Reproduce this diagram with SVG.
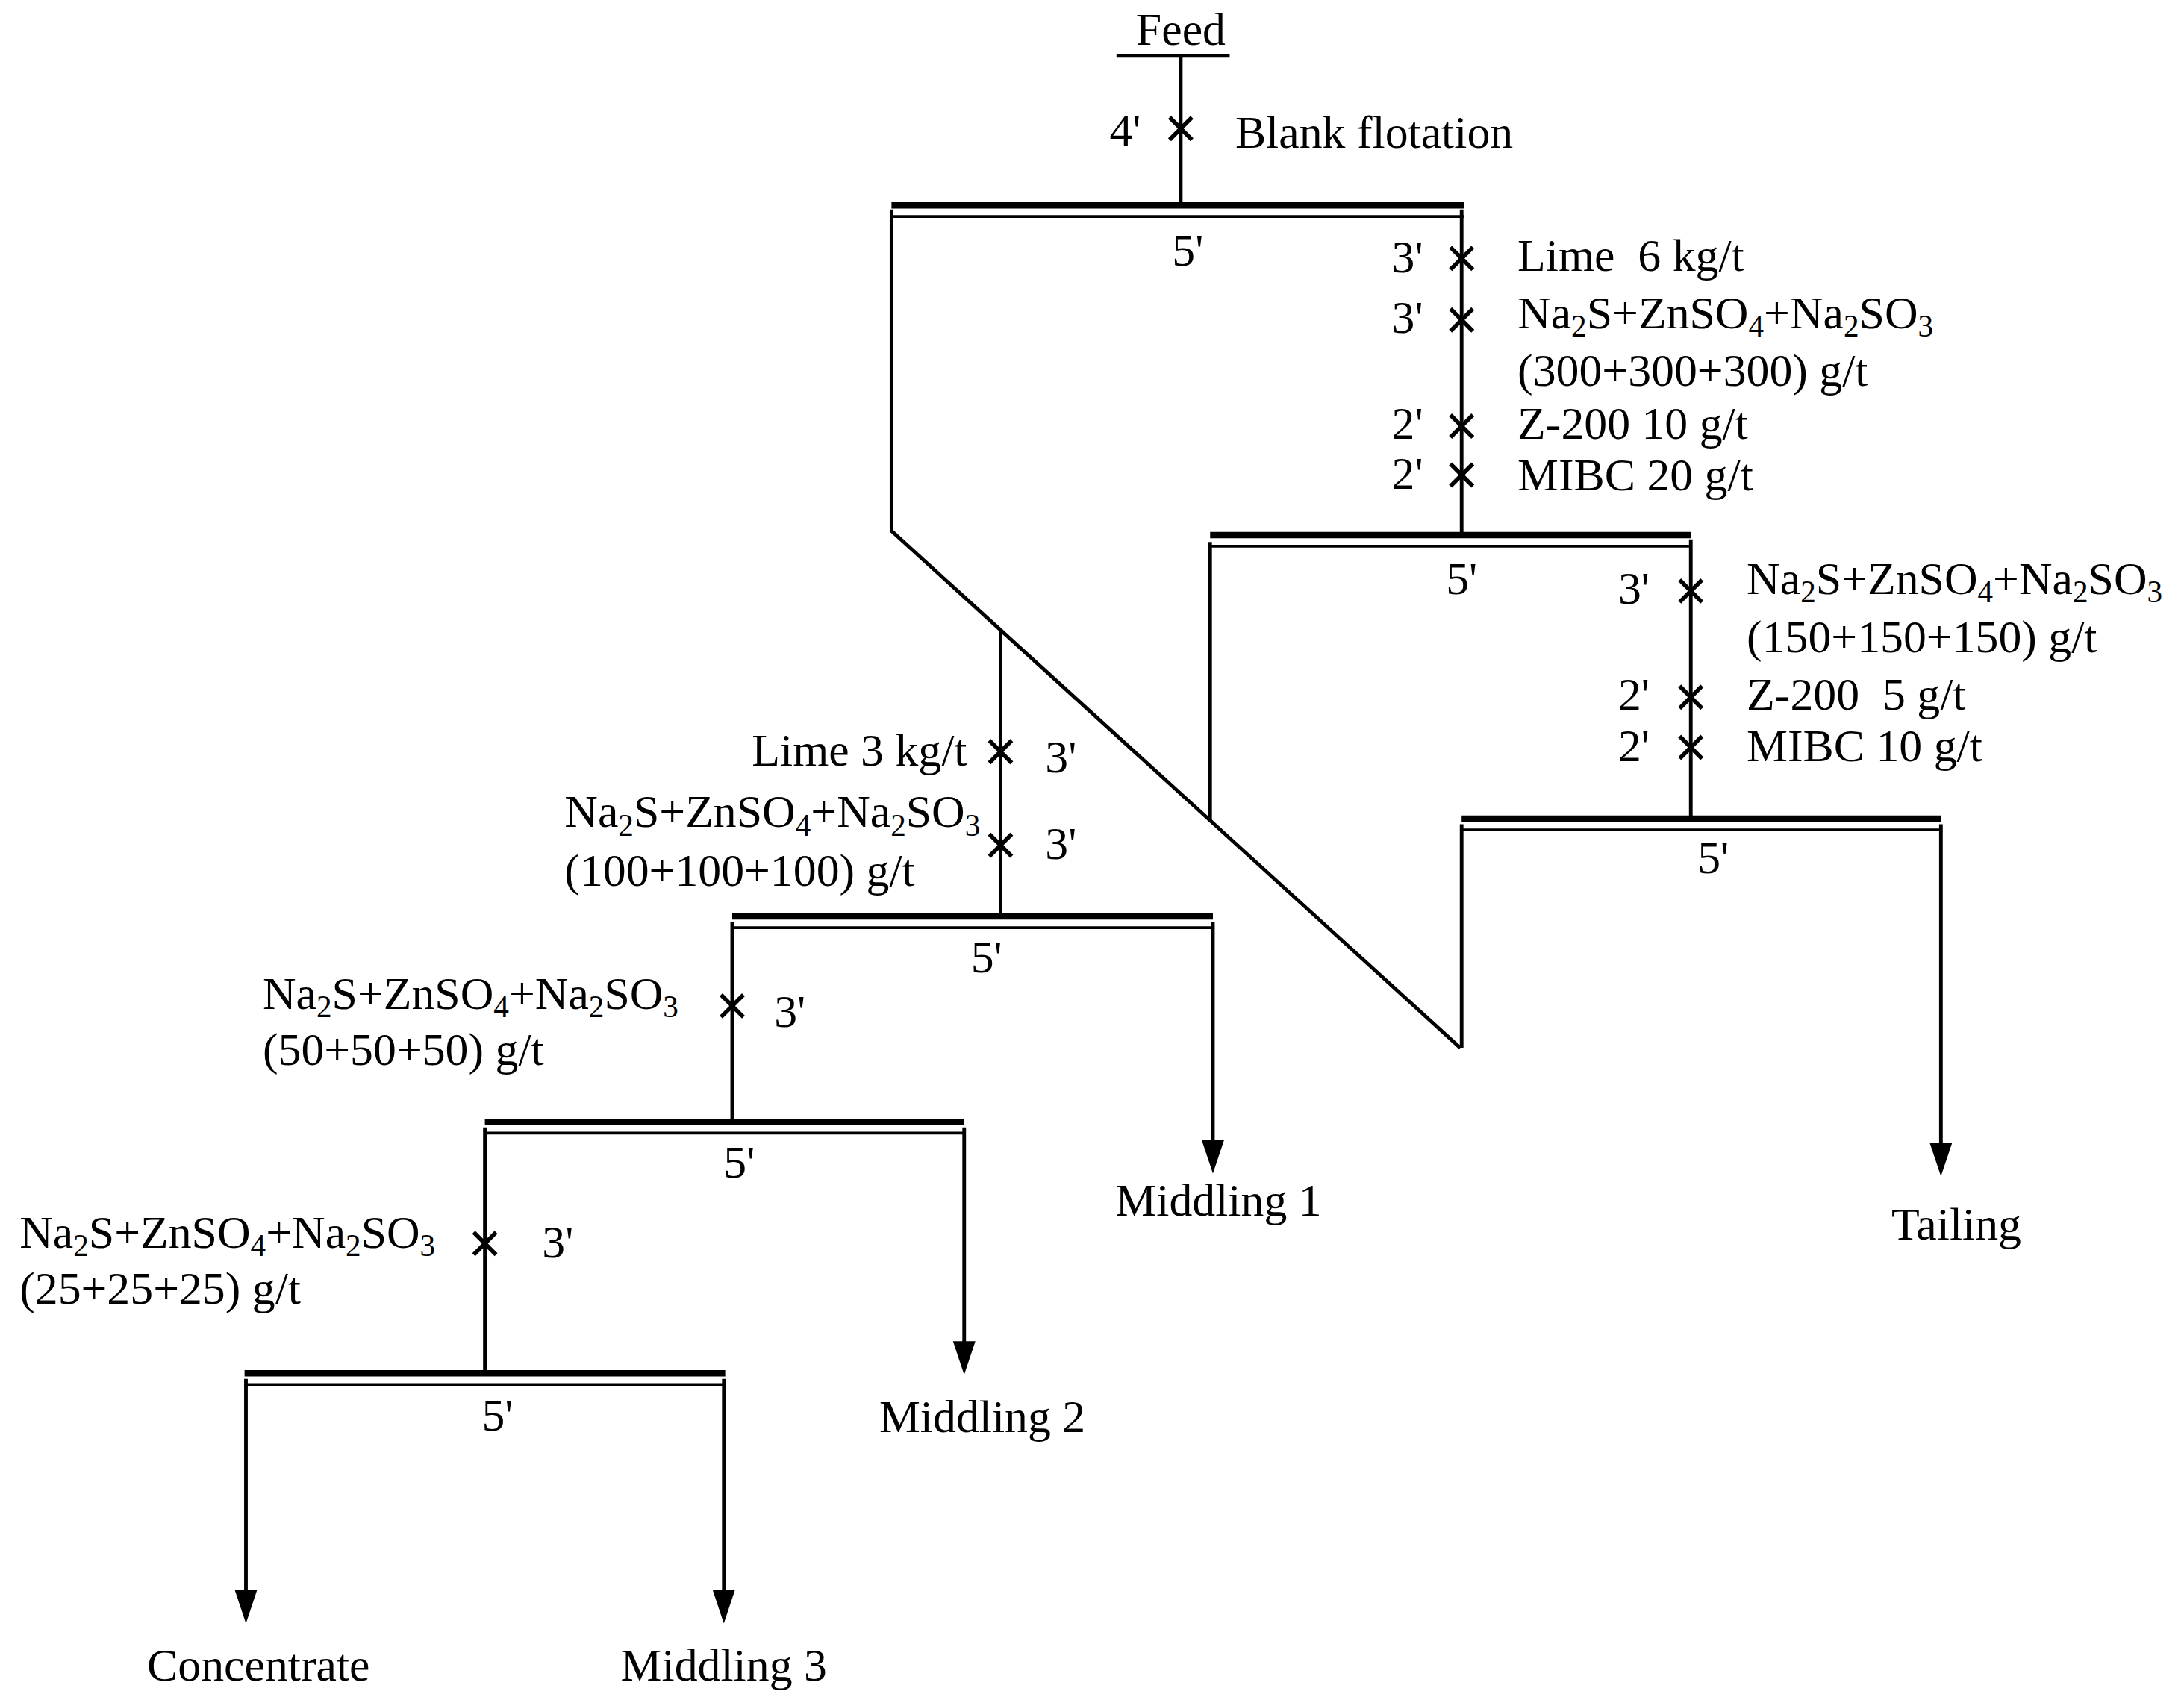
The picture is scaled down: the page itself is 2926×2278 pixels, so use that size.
<svg xmlns="http://www.w3.org/2000/svg" width="2926" height="2278" viewBox="0 0 2926 2278">
<style>
text{font-family:"Liberation Serif","Times New Roman",serif;font-size:33px;fill:#000}
.sub{font-size:22px}
.m{text-anchor:middle}
.e{text-anchor:end}
.l{stroke:#000;stroke-width:2.6;fill:none}
.t{stroke:#000;stroke-width:4.5}
.n{stroke:#000;stroke-width:2}
.x{stroke:#000;stroke-width:3}
</style>
<defs>
<g id="xm"><line class="x" x1="-8" y1="-8" x2="8" y2="8"/><line class="x" x1="-8" y1="8" x2="8" y2="-8"/></g>
<path id="ah" d="M-8,-24 L8,-24 L0,0 Z" fill="#000"/>
</defs>
<rect width="2926" height="2278" fill="#fff"/>
<g transform="scale(1.8721)">
<g id="connectors">
<line class="l" x1="799" y1="40" x2="880" y2="40"/>
<line class="l" x1="845" y1="40" x2="845" y2="147"/>
<polyline class="l" points="638,150 638,380 1045,750"/>
<line class="l" x1="1046" y1="150" x2="1046" y2="383"/>
<line class="l" x1="866" y1="388" x2="866" y2="588"/>
<line class="l" x1="1210" y1="386" x2="1210" y2="586"/>
<line class="l" x1="1046" y1="590" x2="1046" y2="750"/>
<line class="l" x1="1389" y1="590" x2="1389" y2="820"/>
<use href="#ah" x="1389" y="842"/>
<line class="l" x1="716" y1="451" x2="716" y2="656"/>
<line class="l" x1="868" y1="660" x2="868" y2="818"/>
<use href="#ah" x="868" y="840"/>
<line class="l" x1="524" y1="660" x2="524" y2="803"/>
<line class="l" x1="690" y1="807" x2="690" y2="962"/>
<use href="#ah" x="690" y="984"/>
<line class="l" x1="347" y1="807" x2="347" y2="983"/>
<line class="l" x1="176" y1="987" x2="176" y2="1140"/>
<use href="#ah" x="176" y="1162"/>
<line class="l" x1="518" y1="987" x2="518" y2="1140"/>
<use href="#ah" x="518" y="1162"/>
</g>
<g id="feed">
<text class="m" x="845" y="32">Feed</text>
<use href="#xm" x="845" y="92"/>
<text x="794" y="104">4'</text>
<text x="884" y="106">Blank flotation</text>
</g>
<g id="cell1">
<line class="t" x1="638" y1="147" x2="1048" y2="147"/>
<line class="n" x1="638" y1="155" x2="1048" y2="155"/>
<text class="m" x="850" y="190">5'</text>
<use href="#xm" x="1046" y="185"/><text x="996" y="195">3'</text>
<use href="#xm" x="1046" y="229"/><text x="996" y="238">3'</text>
<use href="#xm" x="1046" y="305"/><text x="996" y="314">2'</text>
<use href="#xm" x="1046" y="340"/><text x="996" y="350">2'</text>
<text x="1086" y="194" xml:space="preserve">Lime  6 kg/t</text>
<text x="1086" y="235">Na<tspan class="sub" dy="6">2</tspan><tspan dy="-6">S+ZnSO</tspan><tspan class="sub" dy="6">4</tspan><tspan dy="-6">+Na</tspan><tspan class="sub" dy="6">2</tspan><tspan dy="-6">SO</tspan><tspan class="sub" dy="6">3</tspan></text>
<text x="1086" y="276">(300+300+300) g/t</text>
<text x="1086" y="314">Z-200 10 g/t</text>
<text x="1086" y="351">MIBC 20 g/t</text>
</g>
<g id="cell2">
<line class="t" x1="866" y1="383" x2="1210" y2="383"/>
<line class="n" x1="866" y1="391" x2="1210" y2="391"/>
<text class="m" x="1046" y="425">5'</text>
<use href="#xm" x="1210" y="423"/><text x="1158" y="432">3'</text>
<use href="#xm" x="1210" y="499"/><text x="1158" y="508">2'</text>
<use href="#xm" x="1210" y="535"/><text x="1158" y="545">2'</text>
<text x="1250" y="425">Na<tspan class="sub" dy="6">2</tspan><tspan dy="-6">S+ZnSO</tspan><tspan class="sub" dy="6">4</tspan><tspan dy="-6">+Na</tspan><tspan class="sub" dy="6">2</tspan><tspan dy="-6">SO</tspan><tspan class="sub" dy="6">3</tspan></text>
<text x="1250" y="467">(150+150+150) g/t</text>
<text x="1250" y="508" xml:space="preserve">Z-200  5 g/t</text>
<text x="1250" y="545">MIBC 10 g/t</text>
</g>
<g id="cell4">
<line class="t" x1="1046" y1="586" x2="1389" y2="586"/>
<line class="n" x1="1046" y1="594" x2="1389" y2="594"/>
<text class="m" x="1226" y="625">5'</text>
<text class="m" x="1400" y="887">Tailing</text>
</g>
<g id="cell3">
<use href="#xm" x="716" y="538"/><text x="748" y="553">3'</text>
<use href="#xm" x="716" y="605"/><text x="748" y="615">3'</text>
<text class="e" x="692" y="548">Lime 3 kg/t</text>
<text x="404" y="592">Na<tspan class="sub" dy="6">2</tspan><tspan dy="-6">S+ZnSO</tspan><tspan class="sub" dy="6">4</tspan><tspan dy="-6">+Na</tspan><tspan class="sub" dy="6">2</tspan><tspan dy="-6">SO</tspan><tspan class="sub" dy="6">3</tspan></text>
<text x="404" y="634">(100+100+100) g/t</text>
<line class="t" x1="524" y1="656" x2="868" y2="656"/>
<line class="n" x1="524" y1="664" x2="868" y2="664"/>
<text class="m" x="706" y="696">5'</text>
<text class="m" x="872" y="870">Middling 1</text>
</g>
<g id="cell5">
<use href="#xm" x="524" y="720"/><text x="554" y="735">3'</text>
<text x="188" y="722">Na<tspan class="sub" dy="6">2</tspan><tspan dy="-6">S+ZnSO</tspan><tspan class="sub" dy="6">4</tspan><tspan dy="-6">+Na</tspan><tspan class="sub" dy="6">2</tspan><tspan dy="-6">SO</tspan><tspan class="sub" dy="6">3</tspan></text>
<text x="188" y="762">(50+50+50) g/t</text>
<line class="t" x1="347" y1="803" x2="690" y2="803"/>
<line class="n" x1="347" y1="811" x2="690" y2="811"/>
<text class="m" x="529" y="843">5'</text>
<text class="m" x="703" y="1025">Middling 2</text>
</g>
<g id="cell6">
<use href="#xm" x="347" y="890"/><text x="388" y="900">3'</text>
<text x="14" y="893">Na<tspan class="sub" dy="6">2</tspan><tspan dy="-6">S+ZnSO</tspan><tspan class="sub" dy="6">4</tspan><tspan dy="-6">+Na</tspan><tspan class="sub" dy="6">2</tspan><tspan dy="-6">SO</tspan><tspan class="sub" dy="6">3</tspan></text>
<text x="14" y="933">(25+25+25) g/t</text>
<line class="t" x1="175" y1="983" x2="519" y2="983"/>
<line class="n" x1="175" y1="991" x2="519" y2="991"/>
<text class="m" x="356" y="1024">5'</text>
<text class="m" x="185" y="1203">Concentrate</text>
<text class="m" x="518" y="1203">Middling 3</text>
</g>
</g>
</svg>
